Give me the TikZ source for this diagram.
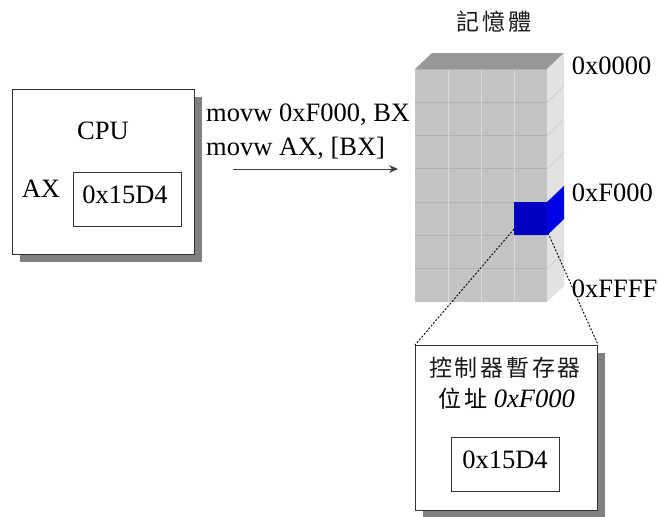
\documentclass[tikz,border=0pt]{standalone}
\usepackage{fontspec}
\setmainfont{Liberation Serif}
\newfontfamily\cjk[LetterSpace=12]{Noto Sans CJK TC}
\usetikzlibrary{arrows.meta}
\definecolor{shadowgray}{HTML}{808080}
\definecolor{cellfill}{HTML}{C4C4C4}
\definecolor{rowline}{HTML}{B2B2B2}
\definecolor{colline}{HTML}{DADADA}
\definecolor{topfill}{HTML}{989898}
\definecolor{sidefill}{HTML}{E2E2E2}
\definecolor{sideline}{HTML}{CCCCCC}
\definecolor{blockfront}{HTML}{0000C0}
\definecolor{blockside}{HTML}{0000E6}
\tikzset{
  txt/.style={inner sep=0pt,font=\fontsize{26.5}{30}\selectfont,text=black},
  basel/.style={txt,anchor=base west},
  basec/.style={txt,anchor=base},
  cjktxt/.style={inner sep=0pt,font=\fontsize{23}{28}\selectfont\cjk,text=black!90},
  panel/.style={draw=black!80,fill=white,line width=1.1pt,inner sep=0pt,anchor=north west},
  regbox/.style={draw=black!80,fill=white,line width=0.9pt,inner sep=0pt,anchor=north west,minimum width=108.5pt,minimum height=54pt},
  shadowbox/.style={fill=shadowgray,draw=none,inner sep=0pt,anchor=north west},
  leader/.style={draw=black,line width=0.9pt,dash pattern=on 2pt off 1.6pt},
  flow/.style={draw=black!75,line width=1pt,-{Stealth[length=9pt,width=8pt]}}
}
\begin{document}
\begin{tikzpicture}[x=1pt,y=-1pt]
\useasboundingbox (0,0) rectangle (659,517);
% CPU
\node[shadowbox,minimum width=182pt,minimum height=165.5pt] (cpushadow) at (20,96.5) {};
\node[panel,minimum width=182pt,minimum height=165.5pt] (cpu) at (12,88.5) {};
\node[regbox] (axreg) at (72.5,171.7) {};
\node[basec] (cpulabel) at (103,139) {CPU};
\node[basec] (axlabel) at (41,197) {AX};
\node[basec] (axval) at (125,203) {0x15D4};
% instructions
\node[basel] (ins1) at (206,121.7) {movw 0xF000, BX};
\node[basel] (ins2) at (206,155) {movw AX, [BX]};
\coordinate (arrowstart) at (233,169);
\coordinate (arrowend) at (398,169);
\draw[flow] (arrowstart) -- (arrowend);
% memory block
\fill[cellfill] (415,69) rectangle (547,302);
\fill[topfill] (415,69) -- (432,53) -- (564,53) -- (547,69) -- cycle;
\fill[sidefill] (547,69) -- (564,53) -- (564,286) -- (547,302) -- cycle;
\foreach \yy in {102.3,135.6,168.9,202.1,235.4,268.7}{
  \draw[rowline,line width=1pt] (415,\yy) -- (547,\yy);
  \draw[sideline,line width=0.7pt] (547,\yy) -- (564,\yy-16.5);
}
\foreach \xx in {448,481,514}{
  \draw[colline,line width=1pt] (\xx,69) -- (\xx,302);
}
\fill[rowline] (415,69) rectangle (547,70);
\fill[blockfront] (514,202.1) rectangle (547,235.4);
\fill[blockside] (547,202.1) -- (564,186) -- (564,219) -- (547,235.4) -- cycle;
\coordinate (leadl) at (514,229);
\coordinate (leadr) at (548,233);
% device
\node[shadowbox,minimum width=182pt,minimum height=165pt] (devshadow) at (423,353) {};
\node[panel,minimum width=182pt,minimum height=165pt] (dev) at (415,345) {};
\node[regbox] (devreg) at (450.5,436.7) {};
\draw[leader] (leadl) -- (dev.north west);
\draw[leader] (leadr) -- (dev.north east);
% labels
\node[cjktxt] (memtitle) at (494,22) {記憶體};
\node[basel] (a0) at (571.7,74) {0x0000};
\node[basel] (a1) at (571.7,201.7) {0xF000};
\node[basel] (a2) at (571.7,297.7) {0xFFFF};
\node[cjktxt] (devtitle) at (505,368) {控制器暫存器};
\node[basec] (devaddr) at (506.7,407) {{\fontsize{23}{28}\selectfont\cjk 位址} \textit{0xF000}};
\node[basec] (devval) at (505,468) {0x15D4};
\end{tikzpicture}
\end{document}
